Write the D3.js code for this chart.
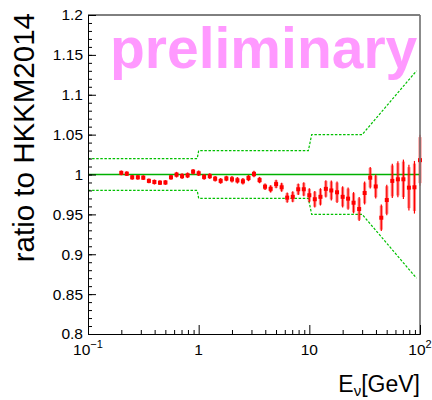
<!DOCTYPE html>
<html>
<head>
<meta charset="utf-8">
<script src="https://cdn.jsdelivr.net/npm/d3@7"></script>
<style>
  body { margin: 0; background: white; }
  text { font-family: "Liberation Sans", Arial, Helvetica, sans-serif; }
</style>
</head>
<body>
<script>
// neutrino energies [GeV] (bin centres)
const energy = [0.2, 0.224, 0.251, 0.282, 0.316, 0.355, 0.398, 0.447, 0.501, 0.562,
  0.631, 0.708, 0.794, 0.891, 1.0, 1.12, 1.26, 1.41, 1.58, 1.78,
  2.0, 2.24, 2.51, 2.82, 3.16, 3.55, 3.98, 4.47, 5.01, 5.62,
  6.31, 7.08, 7.94, 8.91, 10.0, 11.2, 12.6, 14.1, 15.8, 17.8,
  20.0, 22.4, 25.1, 28.2, 31.6, 35.5, 39.8, 44.7, 50.1, 56.2,
  63.1, 70.8, 79.4, 89.1, 100];
// ratio to HKKM2014
const ratio = [1.002, 1.001, 0.9965, 0.9965, 0.996, 0.992, 0.9906, 0.9897, 0.990, 0.9965,
  0.9998, 0.998, 0.999, 1.0035, 1.0015, 0.997, 0.998, 0.9947, 0.992, 0.995,
  0.994, 0.9927, 0.9915, 0.9956, 1.0006, 0.993, 0.9847, 0.982, 0.988, 0.984,
  0.971, 0.972, 0.9815, 0.9815, 0.974, 0.969, 0.972, 0.982, 0.980, 0.9777,
  0.972, 0.9697, 0.9646, 0.9567, 0.9768, 0.996, 0.985, 0.9458, 0.968, 0.992,
  0.994, 0.994, 0.9835, 0.984, 1.018];
// statistical errors (red line)
const errStat = [0.003, 0.003, 0.003, 0.003, 0.003, 0.003, 0.003, 0.003, 0.003, 0.003,
  0.0035, 0.0035, 0.0035, 0.0035, 0.0035, 0.0035, 0.0035, 0.0035, 0.0035, 0.0035,
  0.004, 0.004, 0.004, 0.004, 0.004, 0.004, 0.0041, 0.0046, 0.0053, 0.0056,
  0.0063, 0.0069, 0.0073, 0.0088, 0.0088, 0.0104, 0.0109, 0.0109, 0.0125, 0.0135,
  0.0134, 0.014, 0.0134, 0.015, 0.0144, 0.0135, 0.015, 0.0167, 0.0192, 0.0216,
  0.0226, 0.0247, 0.0286, 0.033, 0.032];
// systematic errors (pink band)
const errSyst = [0.0028, 0.0028, 0.0028, 0.0028, 0.0028, 0.0028, 0.0028, 0.0028, 0.0028, 0.0028,
  0.0032, 0.0032, 0.0032, 0.0032, 0.0032, 0.0032, 0.0032, 0.0032, 0.0032, 0.0032,
  0.0036, 0.0036, 0.0036, 0.0036, 0.0036, 0.0036, 0.0037, 0.0042, 0.0048, 0.005,
  0.0057, 0.0062, 0.0066, 0.008, 0.008, 0.0094, 0.0098, 0.0098, 0.0112, 0.0122,
  0.012, 0.0126, 0.012, 0.0135, 0.013, 0.0122, 0.0135, 0.015, 0.0173, 0.0194,
  0.0203, 0.0222, 0.0257, 0.0297, 0.0288];
// flux uncertainty envelope
const bandE = [0.1, 0.97, 1.0, 9.8, 10.5, 30, 93];
const bandUp = [1.02, 1.02, 1.03, 1.03, 1.05, 1.05, 1.13];
const bandLo = [0.98, 0.98, 0.97, 0.97, 0.95, 0.95, 0.87];

const yTicks = [0.8, 0.85, 0.9, 0.95, 1, 1.05, 1.1, 1.15, 1.2];
const yTickLabels = ["0.8", "0.85", "0.9", "0.95", "1", "1.05", "1.1", "1.15", "1.2"];
const xTicks = [0.1, 1, 10, 100];
const xTickLabels = [["10", "\u22121"], ["1", ""], ["10", ""], ["10", "2"]];
const xMinor = [0.2, 0.3, 0.4, 0.5, 0.6, 0.7, 0.8, 0.9, 2, 3, 4, 5, 6, 7, 8, 9,
  20, 30, 40, 50, 60, 70, 80, 90];

const width = 432, height = 400;
const margin = {top: 15, right: 12, bottom: 66, left: 88};

const svg = d3.select("body").append("svg")
  .attr("width", width)
  .attr("height", height);

svg.append("rect").attr("width", width).attr("height", height).attr("fill", "white");

const x = d3.scaleLog().domain([0.1, 100]).range([margin.left, width - margin.right]);
const y = d3.scaleLinear().domain([0.8, 1.2]).range([height - margin.bottom, margin.top]);

// preliminary watermark
svg.append("text")
  .attr("x", 110)
  .attr("y", 68)
  .style("font-size", "57px")
  .style("font-weight", "bold")
  .attr("fill", "#ff99ff")
  .text("preliminary");

// reference line at 1
svg.append("line")
  .attr("x1", x(0.1)).attr("x2", x(100))
  .attr("y1", y(1)).attr("y2", y(1))
  .attr("stroke", "#00b000")
  .attr("stroke-width", 1.6);

// uncertainty band (dashed)
const bandLine = d3.line().x(d => x(d[0])).y(d => y(d[1]));
[bandUp, bandLo].forEach(b => {
  svg.append("path")
    .attr("d", bandLine(bandE.map((e, i) => [e, b[i]])))
    .attr("fill", "none")
    .attr("stroke", "#00c000")
    .attr("stroke-width", 1.2)
    .attr("stroke-dasharray", "2.5,1.6");
});

// data points
const pts = energy.map((e, i) => ({e: e, r: ratio[i], s: errStat[i], t: errSyst[i]}));
const g = svg.append("g");
g.selectAll(".syst")
  .data(pts)
  .enter().append("rect")
    .attr("x", d => x(d.e) - 1.6)
    .attr("width", 3.2)
    .attr("y", d => y(d.r + d.t))
    .attr("height", d => y(d.r - d.t) - y(d.r + d.t))
    .attr("fill", "#ff0000")
    .attr("fill-opacity", 0.45);
g.selectAll(".stat")
  .data(pts)
  .enter().append("line")
    .attr("x1", d => x(d.e)).attr("x2", d => x(d.e))
    .attr("y1", d => y(d.r + d.s))
    .attr("y2", d => y(d.r - d.s))
    .attr("stroke", "#ff0000")
    .attr("stroke-width", 1.2);
g.selectAll(".mark")
  .data(pts)
  .enter().append("rect")
    .attr("x", d => x(d.e) - 2)
    .attr("y", d => y(d.r) - 2)
    .attr("width", 4)
    .attr("height", 4)
    .attr("fill", "#ff0000");

// frame
svg.append("line")
  .attr("x1", x(0.1)).attr("x2", x(100))
  .attr("y1", y(1.2)).attr("y2", y(1.2))
  .attr("stroke", "black");
svg.append("line")
  .attr("x1", x(100)).attr("x2", x(100))
  .attr("y1", y(1.2)).attr("y2", y(0.8))
  .attr("stroke", "#777")
  .attr("stroke-width", 2)
  .attr("stroke-opacity", 0.85);

// y axis
const yAxis = svg.append("g")
  .attr("transform", `translate(${margin.left},0)`)
  .call(d3.axisLeft(y).tickValues(yTicks).tickSize(-8).tickPadding(5)
    .tickFormat((d, i) => yTickLabels[i]));
svg.append("g")
  .attr("transform", `translate(${margin.left},0)`)
  .call(d3.axisLeft(y).tickValues(d3.range(0.8, 1.2001, 0.01)).tickSize(-4).tickFormat(""))
  .call(a => a.select(".domain").remove());
yAxis.selectAll("text")
  .style("font-size", "15.5px")
  .attr("fill", "black");

// x axis
svg.append("g")
  .attr("transform", `translate(0,${y(0.8)})`)
  .call(d3.axisBottom(x).tickValues(xTicks).tickSize(-9).tickFormat(""));
svg.append("g")
  .attr("transform", `translate(0,${y(0.8)})`)
  .call(d3.axisBottom(x).tickValues(xMinor).tickSize(-4).tickFormat(""))
  .call(a => a.select(".domain").remove());
svg.selectAll(".domain").attr("stroke", "black");
svg.selectAll(".tick line").attr("stroke", "black");

const xl = svg.append("g").selectAll("text")
  .data(xTicks)
  .enter().append("text")
    .attr("x", d => x(d))
    .attr("y", y(0.8) + 21)
    .attr("text-anchor", "middle")
    .style("font-size", "15.5px");
xl.append("tspan").text((d, i) => xTickLabels[i][0]);
xl.append("tspan")
  .attr("dy", -7)
  .style("font-size", "11px")
  .text((d, i) => xTickLabels[i][1]);

// axis titles
svg.append("text")
  .attr("transform", "translate(34,13) rotate(-90)")
  .attr("text-anchor", "end")
  .style("font-size", "29.5px")
  .text("ratio to HKKM2014");

const xt = svg.append("text")
  .attr("x", x(100))
  .attr("y", 392)
  .attr("text-anchor", "end")
  .style("font-size", "23px");
xt.append("tspan").text("E");
xt.append("tspan").attr("dy", 4).style("font-size", "15px").text("\u03bd");
xt.append("tspan").attr("dy", -4).text("[GeV]");
</script>
</body>
</html>
